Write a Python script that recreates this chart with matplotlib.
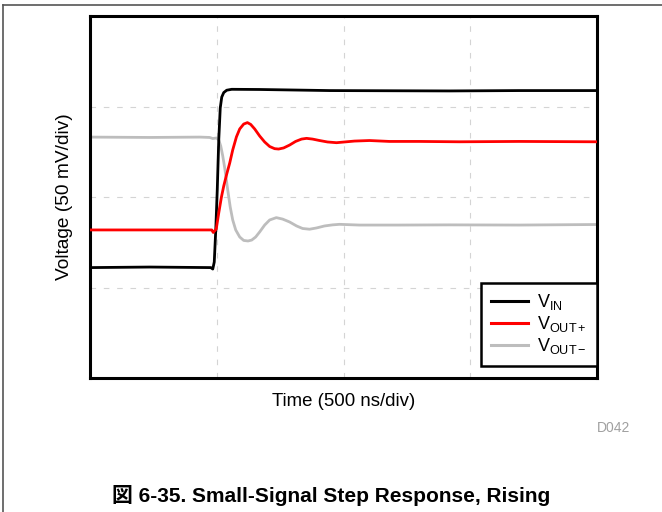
import matplotlib
matplotlib.use("Agg")
import matplotlib.pyplot as plt
from matplotlib.lines import Line2D

plt.rcParams['font.family'] = ['Liberation Sans', 'Noto Sans CJK JP', 'DejaVu Sans']
plt.rcParams['mathtext.fontset'] = 'custom'
plt.rcParams['mathtext.rm'] = 'Liberation Sans'
plt.rcParams['mathtext.it'] = 'Liberation Sans'

# Time in ns (500 ns/div), voltage in mV (50 mV/div)
vin_t = [0, 236, 476.4, 484.3, 490.2, 496.1, 502.0, 507.9, 513.8, 519.7, 527.6, 539.4,
         559.1, 669.3, 944.9, 1417.3, 1692.9, 1996.1]
vin_v = [61.0, 61.3, 61.0, 60.2, 64.1, 81.8, 103.9, 131.5, 149.2, 155.2, 157.7, 159.0,
         159.5, 159.4, 158.8, 158.6, 158.8, 158.8]

voutp_t = [0, 480.3, 486.2, 498.0, 507.9, 518.5, 527.6, 539.4, 551.2, 563.0, 577.6, 590.6,
           606.3, 620.9, 633.9, 649.6, 669.3, 689.0, 708.7, 728.3, 744.1, 763.8, 787.4,
           811.0, 834.6, 854.3, 877.9, 905.5, 937.0, 972.4, 1003.9, 1043.3, 1102.4,
           1181.1, 1299.2, 1456.7, 1692.9, 1996.1]
voutp_v = [81.8, 81.8, 80.4, 82.3, 91.2, 100.0, 106.1, 112.7, 118.8, 126.0, 133.2, 137.6,
           140.3, 141.1, 140.1, 137.6, 133.7, 130.4, 127.9, 126.7, 126.5, 127.1, 128.7,
           130.7, 132.0, 132.4, 132.0, 131.2, 130.4, 130.0, 130.4, 130.9, 131.2,
           130.7, 130.7, 130.5, 130.7, 130.5]

voutn_t = [0, 236.2, 433.1, 472.4, 484.3, 498.8, 507.9, 515.7, 523.6, 531.5, 543.3, 553.1,
           563.0, 574.8, 590.6, 606.3, 623.2, 637.8, 653.5, 669.3, 689.0, 708.7, 735.0,
           759.8, 787.4, 814.9, 838.6, 866.1, 893.7, 925.2, 956.7, 984.3, 1063.0,
           1220.5, 1417.3, 1692.9, 1996.1]
voutn_v = [133.1, 132.9, 133.1, 132.9, 132.3, 132.6, 131.5, 128.2, 122.7, 116.0, 103.9, 94.5,
           87.3, 81.8, 77.9, 76.0, 75.7, 76.2, 77.9, 80.7, 84.5, 87.3, 88.6,
           87.8, 86.2, 84.0, 82.6, 82.2, 82.9, 84.0, 84.6, 84.9, 84.5,
           84.5, 84.6, 84.5, 84.8]

fig = plt.figure(figsize=(6.62, 5.12), dpi=100)
ax = fig.add_axes([90/662, 1-378/512, (597-90)/662, (378-16)/512])

ax.plot(vin_t, vin_v, color='black', lw=2.0, label=r'V$_{\mathrm{IN}}$', zorder=3,
        solid_joinstyle='round')
ax.plot(voutp_t, voutp_v, color='#ff0000', lw=2.0, label=r'V$_{\mathrm{OUT+}}$', zorder=3,
        solid_joinstyle='round')
ax.plot(voutn_t, voutn_v, color='#bdbdbd', lw=2.0, label=r'V$_{\mathrm{OUT}-}$', zorder=2,
        solid_joinstyle='round')

ax.set_xlim(0, 2000)
ax.set_ylim(0, 200)
ax.set_xticks([500, 1000, 1500])
ax.set_yticks([50, 100, 150])
ax.tick_params(length=0, labelbottom=False, labelleft=False)
ax.grid(True, color='#d4d4d4', lw=0.8, ls=(0, (5, 7)))
for s in ax.spines.values():
    s.set_linewidth(2.2)
    s.set_color('black')

ax.set_xlabel('Time (500 ns/div)', fontsize=13.4, labelpad=11)
ax.set_ylabel('Voltage (50 mV/div)', fontsize=13.8, labelpad=12)

leg = ax.legend(loc='lower right', bbox_to_anchor=(1.0, 12/362), fontsize=13,
                frameon=True, fancybox=False, borderaxespad=0, handlelength=2.0,
                handletextpad=0.55, labelspacing=0.1, borderpad=0.55)
leg.get_frame().set_edgecolor('black')
leg.get_frame().set_linewidth(1.8)
leg.get_frame().set_alpha(1)
for h in leg.get_lines():
    h.set_linewidth(2.2)

fig.text(630/662, 1-428/512, 'D042', color='#a0a0a0', fontsize=10, ha='right', va='center')
fig.text(331/662, 1-495/512, '図 6-35. Small-Signal Step Response, Rising',
         fontsize=15, fontweight='bold', ha='center', va='center')

fig.add_artist(Line2D([3/662, 1], [1-5/512, 1-5/512], transform=fig.transFigure,
                      color='#555555', lw=1.2))
fig.add_artist(Line2D([3/662, 3/662], [0, 1-5/512], transform=fig.transFigure,
                      color='#555555', lw=1.2))

fig.savefig('out.png', dpi=100)
